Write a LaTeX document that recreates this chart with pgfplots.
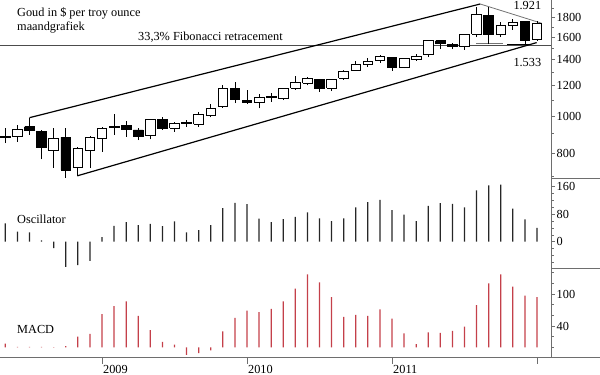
\documentclass[border=0pt]{standalone}
\usepackage{fontspec}
\setmainfont{Liberation Serif}
\usepackage{pgfplots}
\pgfplotsset{compat=1.18}
\definecolor{macdred}{RGB}{196,64,74}
\definecolor{axgray}{RGB}{110,110,110}
\begin{document}
\fontsize{12.3pt}{14pt}\selectfont
\begin{tikzpicture}
\useasboundingbox (0pt,0pt) rectangle (600pt,375pt);
\pgfplotsset{
  panel/.style={
    anchor=south west, scale only axis, width=551.5pt,
    xmin=-0.441, xmax=45.2,
    axis line style={draw=none},
    xtick=\empty,
    ytick pos=right, yticklabel pos=right,
    tick align=outside,
    major tick length=3.5pt, minor tick length=2pt,
    tick style={axgray, line width=0.6pt},
    yticklabel style={inner sep=1.5pt, font=\fontsize{12.3pt}{14pt}\selectfont},
  },
  wk/.style={black, line width=0.8pt, mark=none},
  wb/.style={draw=black, fill=white, line width=0.8pt, mark=none},
  bb/.style={draw=black, fill=black, line width=0.8pt, mark=none},
}
% ---------------- price panel ----------------
\begin{axis}[panel, at={(0pt,195pt)}, height=180pt, ymode=log, ymin=682.8, ymax=1997.3,
  ytick={800,1000,1200,1400,1600,1800}, yticklabels={800,1000,1200,1400,1600,1800},
  minor ytick={700,900,1100,1300,1500,1700,1900}]
% Fibonacci line
\addplot[draw=black!70, line width=0.8pt] coordinates {(-0.441,1527) (45.2,1527)};
% channel lines
\addplot[black, line width=1.2pt] coordinates {(2,990) (39.3,1950)};
\addplot[black, line width=1.2pt] coordinates {(5.96,700) (43.97,1549)};
\addplot[black!55, line width=0.8pt] coordinates {(39.3,1950) (44.4,1738)};
\addplot[black!55, line width=0.8pt] coordinates {(38.95,1543) (41.2,1543)};
\addplot[black, line width=1pt] coordinates {(41.5,1533) (43.4,1533)};
% wicks (low, high)
\addplot[wk] coordinates {(0,850) (0,933)};
\addplot[wk] coordinates {(1,858) (1,948)};
\addplot[wk] coordinates {(2,893) (2,990)};
\addplot[wk] coordinates {(3,772) (3,918)};
\addplot[wk] coordinates {(4,735) (4,929)};
\addplot[wk] coordinates {(5,692) (5,933)};
\addplot[wk] coordinates {(6,700) (6,829)};
\addplot[wk] coordinates {(7,735) (7,890)};
\addplot[wk] coordinates {(8,808) (8,935)};
\addplot[wk] coordinates {(9,893) (9,1010)};
\addplot[wk] coordinates {(10,884) (10,971)};
\addplot[wk] coordinates {(11,866) (11,929)};
\addplot[wk] coordinates {(12,870) (12,985)};
\addplot[wk] coordinates {(13,920) (13,996)};
\addplot[wk] coordinates {(14,911) (14,967)};
\addplot[wk] coordinates {(15,938) (15,977)};
\addplot[wk] coordinates {(16,938) (16,1026)};
\addplot[wk] coordinates {(17,992) (17,1074)};
\addplot[wk] coordinates {(18,1050) (18,1203)};
\addplot[wk] coordinates {(19,1079) (19,1227)};
\addplot[wk] coordinates {(20,1075) (20,1168)};
\addplot[wk] coordinates {(21,1047) (21,1139)};
\addplot[wk] coordinates {(22,1089) (22,1146)};
\addplot[wk] coordinates {(23,1100) (23,1180)};
\addplot[wk] coordinates {(24,1168) (24,1269)};
\addplot[wk] coordinates {(25,1200) (25,1265)};
\addplot[wk] coordinates {(26,1156) (26,1250)};
\addplot[wk] coordinates {(27,1160) (27,1250)};
\addplot[wk] coordinates {(28,1240) (28,1313)};
\addplot[wk] coordinates {(29,1308) (29,1388)};
\addplot[wk] coordinates {(30,1343) (30,1416)};
\addplot[wk] coordinates {(31,1375) (31,1439)};
\addplot[wk] coordinates {(32,1310) (32,1423)};
\addplot[wk] coordinates {(33,1330) (33,1412)};
\addplot[wk] coordinates {(34,1391) (34,1448)};
\addplot[wk] coordinates {(35,1420) (35,1575)};
\addplot[wk] coordinates {(36,1489) (36,1577)};
\addplot[wk] coordinates {(37,1490) (37,1548)};
\addplot[wk] coordinates {(38,1483) (38,1632)};
\addplot[wk] coordinates {(39,1600) (39,1915)};
\addplot[wk] coordinates {(40,1534) (40,1921)};
\addplot[wk] coordinates {(41,1600) (41,1755)};
\addplot[wk] coordinates {(42,1671) (42,1781)};
\addplot[wk] coordinates {(43,1531) (43,1764)};
\addplot[wk] coordinates {(44,1563) (44,1764)};
% white bodies (open below close)
\addplot[wb] coordinates {(-0.4,882) (0.4,882) (0.4,887) (-0.4,887) (-0.4,882)};
\addplot[wb] coordinates {(0.6,884) (1.4,884) (1.4,924) (0.6,924) (0.6,884)};
\addplot[wb] coordinates {(3.6,813) (4.4,813) (4.4,875) (3.6,875) (3.6,813)};
\addplot[wb] coordinates {(5.6,735) (6.4,735) (6.4,824) (5.6,824) (5.6,735)};
\addplot[wb] coordinates {(6.6,813) (7.4,813) (7.4,880) (6.6,880) (6.6,813)};
\addplot[wb] coordinates {(7.6,875) (8.4,875) (8.4,929) (7.6,929) (7.6,875)};
\addplot[wb] coordinates {(8.6,935) (9.4,935) (9.4,941) (8.6,941) (8.6,935)};
\addplot[wb] coordinates {(11.6,889) (12.4,889) (12.4,982) (11.6,982) (11.6,889)};
\addplot[wb] coordinates {(13.6,929) (14.4,929) (14.4,957) (13.6,957) (13.6,929)};
\addplot[wb] coordinates {(15.6,952) (16.4,952) (16.4,1010) (15.6,1010) (15.6,952)};
\addplot[wb] coordinates {(16.6,1006) (17.4,1006) (17.4,1047) (16.6,1047) (16.6,1006)};
\addplot[wb] coordinates {(17.6,1057) (18.4,1057) (18.4,1179) (17.6,1179) (17.6,1057)};
\addplot[wb] coordinates {(20.6,1085) (21.4,1085) (21.4,1118) (20.6,1118) (20.6,1085)};
\addplot[wb] coordinates {(21.6,1116) (22.4,1116) (22.4,1121) (21.6,1121) (21.6,1116)};
\addplot[wb] coordinates {(22.6,1111) (23.4,1111) (23.4,1179) (22.6,1179) (22.6,1111)};
\addplot[wb] coordinates {(23.6,1179) (24.4,1179) (24.4,1220) (23.6,1220) (23.6,1179)};
\addplot[wb] coordinates {(24.6,1215) (25.4,1215) (25.4,1252) (24.6,1252) (24.6,1215)};
\addplot[wb] coordinates {(26.6,1180) (27.4,1180) (27.4,1246) (26.6,1246) (26.6,1180)};
\addplot[wb] coordinates {(27.6,1253) (28.4,1253) (28.4,1308) (27.6,1308) (27.6,1253)};
\addplot[wb] coordinates {(28.6,1314) (29.4,1314) (29.4,1360) (28.6,1360) (28.6,1314)};
\addplot[wb] coordinates {(29.6,1360) (30.4,1360) (30.4,1388) (29.6,1388) (29.6,1360)};
\addplot[wb] coordinates {(30.6,1391) (31.4,1391) (31.4,1425) (30.6,1425) (30.6,1391)};
\addplot[wb] coordinates {(32.6,1336) (33.4,1336) (33.4,1411) (32.6,1411) (32.6,1336)};
\addplot[wb] coordinates {(33.6,1405) (34.4,1405) (34.4,1430) (33.6,1430) (33.6,1405)};
\addplot[wb] coordinates {(34.6,1440) (35.4,1440) (35.4,1565) (34.6,1565) (34.6,1440)};
\addplot[wb] coordinates {(37.6,1511) (38.4,1511) (38.4,1628) (37.6,1628) (37.6,1511)};
\addplot[wb] coordinates {(38.6,1628) (39.4,1628) (39.4,1835) (38.6,1835) (38.6,1628)};
\addplot[wb] coordinates {(40.6,1630) (41.4,1630) (41.4,1720) (40.6,1720) (40.6,1630)};
\addplot[wb] coordinates {(41.6,1715) (42.4,1715) (42.4,1744) (41.6,1744) (41.6,1715)};
\addplot[wb] coordinates {(43.6,1575) (44.4,1575) (44.4,1741) (43.6,1741) (43.6,1575)};
% black bodies (open above close)
\addplot[bb] coordinates {(1.6,938) (2.4,938) (2.4,916) (1.6,916) (1.6,938)};
\addplot[bb] coordinates {(2.6,914) (3.4,914) (3.4,831) (2.6,831) (2.6,914)};
\addplot[bb] coordinates {(4.6,880) (5.4,880) (5.4,725) (4.6,725) (4.6,880)};
\addplot[bb] coordinates {(9.6,944) (10.4,944) (10.4,925) (9.6,925) (9.6,944)};
\addplot[bb] coordinates {(10.6,920) (11.4,920) (11.4,887) (10.6,887) (10.6,920)};
\addplot[bb] coordinates {(12.6,980) (13.4,980) (13.4,929) (12.6,929) (12.6,980)};
\addplot[bb] coordinates {(14.6,963) (15.4,963) (15.4,958) (14.6,958) (14.6,963)};
\addplot[bb] coordinates {(18.6,1179) (19.4,1179) (19.4,1105) (18.6,1105) (18.6,1179)};
\addplot[bb] coordinates {(19.6,1100) (20.4,1100) (20.4,1085) (19.6,1085) (19.6,1100)};
\addplot[bb] coordinates {(25.6,1245) (26.4,1245) (26.4,1180) (25.6,1180) (25.6,1245)};
\addplot[bb] coordinates {(31.6,1416) (32.4,1416) (32.4,1334) (31.6,1334) (31.6,1416)};
\addplot[bb] coordinates {(35.6,1567) (36.4,1567) (36.4,1543) (35.6,1543) (35.6,1567)};
\addplot[bb] coordinates {(36.6,1534) (37.4,1534) (37.4,1511) (36.6,1511) (36.6,1534)};
\addplot[bb] coordinates {(39.6,1825) (40.4,1825) (40.4,1628) (39.6,1628) (39.6,1825)};
\addplot[bb] coordinates {(42.6,1755) (43.4,1755) (43.4,1567) (42.6,1567) (42.6,1755)};
\end{axis}
% ---------------- oscillator panel ----------------
\begin{axis}[panel, at={(0pt,107pt)}, height=88pt, ymin=-76.5, ymax=179.5,
  ytick={0,80,160}, yticklabels={0,80,160},
  minor ytick={-60,-40,-20,20,40,60,100,120,140}]
\addplot[ybar, bar width=1.3pt, fill=black!85, draw=none] coordinates {
(0,53) (1,29) (2,27) (3,4) (4,-19) (5,-73) (6,-68) (7,-56) (8,13) (9,46)
(10,57) (11,48) (12,52) (13,45) (14,59) (15,27) (16,34) (17,48) (18,98) (19,113)
(20,109) (21,67) (22,57) (23,66) (24,72) (25,85) (26,68) (27,60) (28,68) (29,100)
(30,115) (31,122) (32,92) (33,79) (34,60) (35,104) (36,112) (37,110) (38,100) (39,149)
(40,164) (41,166) (42,96) (43,65) (44,40)
};
\end{axis}
% ---------------- MACD panel ----------------
\begin{axis}[panel, at={(0pt,18pt)}, height=89pt, ymin=-18.2, ymax=148.75,
  ytick={40,100}, yticklabels={40,100},
  minor ytick={0,20,60,80,120,140}]
\addplot[ybar, bar width=1.3pt, fill=macdred, draw=none] coordinates {
(0,7) (1,1) (2,1) (3,1) (4,0.5) (5,2) (6,20) (7,25) (8,62) (9,77)
(10,86) (11,59) (12,32) (13,10) (14,5) (15,-14) (16,-11) (17,-6) (18,30) (19,55)
(20,69) (21,66) (22,72) (23,86) (24,110) (25,137) (26,122) (27,94) (28,57) (29,61)
(30,59) (31,71) (32,54) (33,26) (34,6) (35,28) (36,27) (37,31) (38,39) (39,79)
(40,120) (41,137) (42,114) (43,97) (44,94)
};
\end{axis}
% ---------------- time axis ticks ----------------
\begin{axis}[at={(0pt,18pt)}, anchor=south west, scale only axis, width=551.5pt, height=89pt,
  xmin=-0.441, xmax=45.2, ymin=0, ymax=1, axis line style={draw=none},
  ytick=\empty, xtick={8,20,32,44}, xticklabels={2009,2010,2011,{}},
  xtick pos=bottom, tick align=outside, major tick length=7pt,
  tick style={axgray, line width=0.6pt},
  xticklabel style={anchor=north west, inner sep=1pt, font=\fontsize{12.3pt}{14pt}\selectfont}]
\end{axis}
% frame lines
\draw[axgray, line width=0.7pt] (551.5pt,18pt) -- (551.5pt,375pt);
\draw[axgray, line width=0.7pt] (0pt,18pt) -- (600pt,18pt);
\draw[axgray, line width=0.7pt] (551.5pt,196.5pt) -- (600pt,196.5pt);
\draw[axgray, line width=0.7pt] (551.5pt,107pt) -- (600pt,107pt);
% texts
\node[anchor=base west, inner sep=0pt] at (17pt,358pt) {Goud in \$ per troy ounce};
\node[anchor=base west, inner sep=0pt] at (17pt,344pt) {maandgrafiek};
\node[anchor=base west, inner sep=0pt] at (138pt,334.5pt) {33,3\% Fibonacci retracement};
\node[anchor=base west, inner sep=0pt] at (513.3pt,365.7pt) {1.921};
\node[anchor=base west, inner sep=0pt] at (513.3pt,308.3pt) {1.533};
\node[anchor=base west, inner sep=0pt] at (17pt,151.7pt) {Oscillator};
\node[anchor=base west, inner sep=0pt] at (17pt,41.7pt) {MACD};
\end{tikzpicture}
\end{document}
